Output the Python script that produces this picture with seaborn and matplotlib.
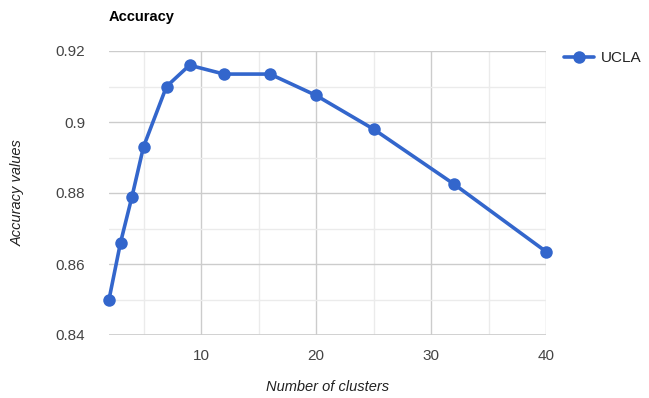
import matplotlib
matplotlib.use('Agg')
import matplotlib.pyplot as plt
import seaborn as sns
import pandas as pd
from matplotlib.ticker import MultipleLocator

clusters = [2, 3, 4, 5, 7, 9, 12, 16, 20, 25, 32, 40]
accuracy = [0.850, 0.866, 0.879, 0.893, 0.910, 0.916, 0.9135, 0.9135, 0.9075, 0.898, 0.8825, 0.8635]
x_ticks = [10, 20, 30, 40]
y_ticks = [0.84, 0.86, 0.88, 0.9, 0.92]
y_labels = ['0.84', '0.86', '0.88', '0.9', '0.92']

df = pd.DataFrame({'clusters': clusters, 'accuracy': accuracy, 'series': 'UCLA'})

sns.set_style('white')
plt.rcParams['font.family'] = ['Liberation Sans', 'DejaVu Sans']

fig = plt.figure(figsize=(6.49, 3.98), dpi=100)
ax = fig.add_axes([109 / 649, 63 / 398, 437 / 649, 284 / 398])

sns.lineplot(data=df, x='clusters', y='accuracy', hue='series', palette=['#3366cc'],
             marker='o', markersize=9, linewidth=2.6, markeredgewidth=0, ax=ax,
             zorder=3, clip_on=False)

ax.set_xlim(2, 40)
ax.set_ylim(0.84, 0.92)
ax.set_xticks(x_ticks)
ax.set_yticks(y_ticks)
ax.set_yticklabels(y_labels)
ax.xaxis.set_minor_locator(MultipleLocator(5))
ax.yaxis.set_minor_locator(MultipleLocator(0.01))
ax.grid(which='major', color='#cccccc', linewidth=1)
ax.grid(which='minor', color='#ebebeb', linewidth=1)
ax.set_axisbelow(True)
for s in ax.spines.values():
    s.set_visible(False)
ax.axhline(0.84, color='#cccccc', linewidth=1.2, zorder=1)
ax.tick_params(axis='both', which='both', length=0, labelsize=11, colors='#444444')
ax.tick_params(axis='y', pad=17)
ax.tick_params(axis='x', pad=10)

ax.set_xlabel('Number of clusters', fontsize=10.5, style='italic', color='#222222', labelpad=12)
ax.set_ylabel('Accuracy values', fontsize=10.5, style='italic', color='#222222', labelpad=22)
fig.text(109 / 649, 1 - 17 / 398, 'Accuracy', fontsize=10.5, fontweight='bold',
         color='#000000', va='center', ha='left')

leg = ax.legend(loc='upper left', bbox_to_anchor=(1.027, 1.02), frameon=False,
                fontsize=11, handlelength=2.0, handletextpad=0.4, borderaxespad=0)
for t in leg.get_texts():
    t.set_color('#222222')

fig.savefig('out.png', dpi=100)
